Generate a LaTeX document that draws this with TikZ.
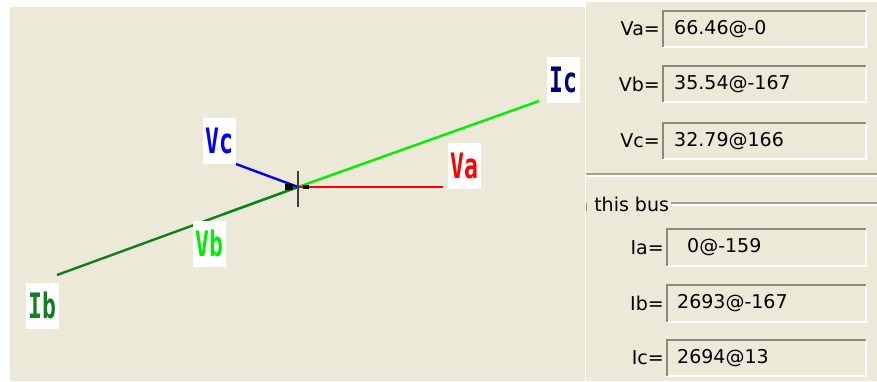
\documentclass[tikz,border=0pt]{standalone}
\usepackage{graphicx}
\usepackage{fontspec}
\setmainfont{DejaVu Sans}
\newfontfamily\labfont{DejaVu Sans Mono}
\definecolor{bg}{RGB}{236,233,216}
\definecolor{lime}{RGB}{0,238,0}
\definecolor{dkgreen}{RGB}{20,125,30}
\definecolor{navyc}{RGB}{0,0,128}
\definecolor{sepgray}{RGB}{165,162,148}
\definecolor{boxdark}{RGB}{140,137,122}
\tikzset{
  phasor/.style={line width=2.4pt},
  lab/.style={fill=white, inner sep=0pt, minimum width=33pt, minimum height=46pt,
    font=\labfont\bfseries\fontsize{35}{35}\selectfont},
  fldlab/.style={anchor=east, inner sep=0pt, font=\fontsize{19}{19}\selectfont},
  fldval/.style={anchor=west, inner sep=0pt, font=\fontsize{19}{19}\selectfont},
}
\newcommand{\fieldbx}[4]{%
  \fill[bg] (#1,#2) rectangle (#3,#4);
  \draw[white, line width=2pt] (#1,#4-1) -- (#3-1,#4-1) -- (#3-1,#2);
  \draw[boxdark, line width=2pt] (#1+1,#4-1) -- (#1+1,#2+1) -- (#3-1,#2+1);
}
\begin{document}
\begin{tikzpicture}[x=1pt,y=-1pt]
\useasboundingbox (0,0) rectangle (877,381);
\fill[white] (0,0) rectangle (877,381);
% panels
\fill[bg] (10,7) rectangle (585,381);
\fill[bg] (586,2) rectangle (877,381);

% phasor end points
\coordinate (O) at (298,187);
\coordinate (VaE) at (443,187);
\coordinate (VbE) at (224,214);
\coordinate (VcE) at (236,164);
\coordinate (IbE) at (57,275);
\coordinate (IcE) at (539,101);

% phasors
\draw[phasor, lime] (O) -- (VbE);
\draw[phasor, dkgreen] (O) -- (IbE);
\draw[phasor, lime] (O) -- (IcE);
\draw[phasor, red] (O) -- (VaE);
\draw[phasor, blue] (O) -- (VcE);
\fill[black] (285,184) rectangle (293,190);
\fill[black] (303,185) rectangle (309,189);
\draw[black!75, line width=1.6pt] (O) ++(0,-16) -- ++(0,36);

% labels
\node[lab, text=red] (Va) at (464.5,166) {\scalebox{0.66}[1]{Va}};
\node[lab, text=lime] (Vb) at (209.5,243.5) {\scalebox{0.66}[1]{Vb}};
\node[lab, text=blue] (Vc) at (219,141) {\scalebox{0.66}[1]{Vc}};
\node[lab, text=dkgreen] (Ib) at (42.5,305.5) {\scalebox{0.66}[1]{Ib}};
\node[lab, text=navyc] (Ic) at (563,79.5) {\scalebox{0.66}[1]{Ic}};

% right panel: voltages
\fieldbx{662}{10}{867}{48}
\fieldbx{662}{65}{867}{103}
\fieldbx{662}{122}{867}{160}
\node[fldlab] (lVa) at (660,29) {Va=};
\node[fldlab] (lVb) at (660,84) {Vb=};
\node[fldlab] (lVc) at (660,141) {Vc=};
\node[fldval] (fVa) at (674,29) {66.46@-0};
\node[fldval] (fVb) at (674,84) {35.54@-167};
\node[fldval] (fVc) at (674,141) {32.79@166};

% separator
\draw[sepgray, line width=1.2pt] (586,174) -- (877,174);
\draw[white, line width=1.2pt] (586,176) -- (877,176);

% group box
\begin{scope}
\clip (586,180) rectangle (700,225);
\node[anchor=base west, inner sep=0pt, font=\fontsize{19}{19}\selectfont] (grp) at (576,211) {n this bus};
\end{scope}
\draw[sepgray, line width=1.2pt] (671,203) -- (877,203);
\draw[white, line width=1.2pt] (671,205) -- (877,205);

% right panel: currents
\fieldbx{666}{228}{867}{267}
\fieldbx{666}{284}{867}{323}
\fieldbx{666}{339}{867}{377}
\node[fldlab] (lIa) at (664,247.5) {Ia=};
\node[fldlab] (lIb) at (664,303.5) {Ib=};
\node[fldlab] (lIc) at (664,358) {Ic=};
\node[fldval] (fIa) at (687,247.5) {0@-159};
\node[fldval] (fIb) at (677,303.5) {2693@-167};
\node[fldval] (fIc) at (677,358) {2694@13};
\end{tikzpicture}
\end{document}
